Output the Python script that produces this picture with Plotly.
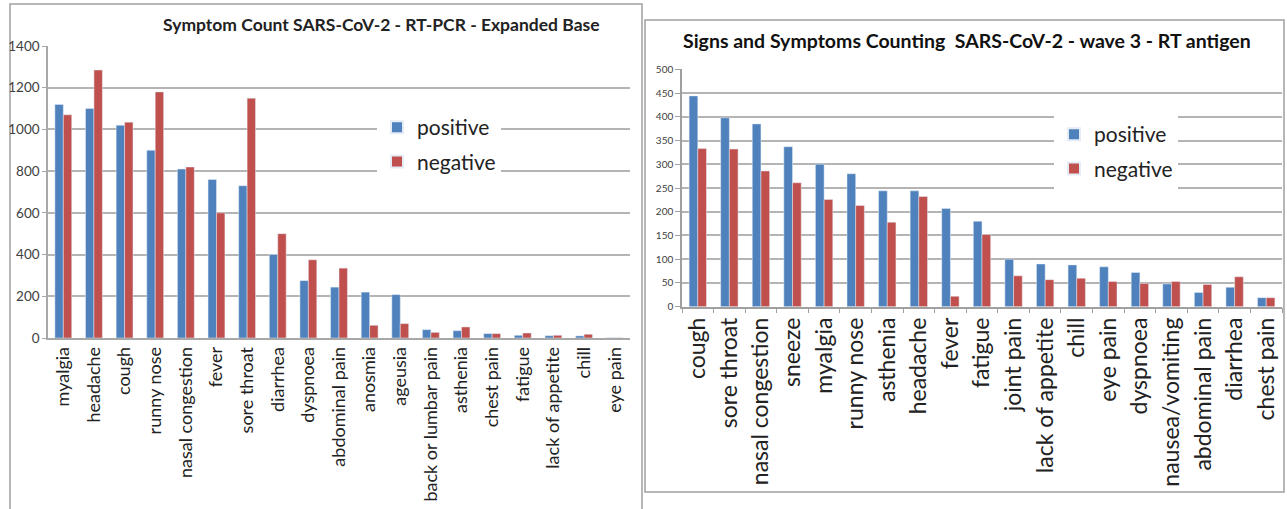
import plotly.graph_objects as go

# ---------------- data ----------------
left_categories = ["myalgia", "headache", "cough", "runny nose", "nasal congestion", "fever",
                   "sore throat", "diarrhea", "dyspnoea", "abdominal pain", "anosmia", "ageusia",
                   "back or lumbar pain", "asthenia", "chest pain", "fatigue", "lack of appetite",
                   "chill", "eye pain"]
left_positive = [1120, 1100, 1020, 900, 810, 760, 730, 400, 275, 244, 220, 208, 40, 35, 21, 13, 11, 10, 1]
left_negative = [1070, 1285, 1035, 1180, 820, 600, 1150, 500, 375, 335, 61, 69, 27, 53, 21, 24, 13, 18, 1]

right_categories = ["cough", "sore throat", "nasal congestion", "sneeze", "myalgia", "runny nose",
                    "asthenia", "headache", "fever", "fatigue", "joint pain", "lack of appetite",
                    "chill", "eye pain", "dyspnoea", "nausea/vomiting", "abdominal pain",
                    "diarrhea", "chest pain"]
right_positive = [444, 398, 385, 337, 300, 280, 244, 244, 207, 180, 100, 90, 88, 84, 72, 48, 30, 41, 19]
right_negative = [333, 332, 286, 261, 226, 213, 178, 232, 22, 152, 65, 57, 60, 53, 49, 53, 47, 63, 19]

left_title = "Symptom Count SARS-CoV-2 - RT-PCR - Expanded Base"
right_title = "Signs and Symptoms Counting  SARS-CoV-2 - wave 3 - RT antigen"
left_y_ticks = [0, 200, 400, 600, 800, 1000, 1200, 1400]
right_y_ticks = [0, 50, 100, 150, 200, 250, 300, 350, 400, 450, 500]
series_names = ["positive", "negative"]

# ---------------- style ----------------
BLUE = "#4F81BD"
RED = "#C0504D"
GRID = "#b4b4b4"
FONT = "Lato"
W, H = 1287, 509


def px(x):
    return x / W


def py(y):
    return 1 - y / H


fig = go.Figure()
fig.add_trace(go.Bar(x=left_categories, y=left_positive, name=series_names[0], marker_color=BLUE,
                     xaxis="x", yaxis="y", legend="legend", legendgroup="a"))
fig.add_trace(go.Bar(x=left_categories, y=left_negative, name=series_names[1], marker_color=RED,
                     xaxis="x", yaxis="y", legend="legend", legendgroup="b"))
fig.add_trace(go.Bar(x=right_categories, y=right_positive, name=series_names[0], marker_color=BLUE,
                     xaxis="x2", yaxis="y2", legend="legend2", legendgroup="c"))
fig.add_trace(go.Bar(x=right_categories, y=right_negative, name=series_names[1], marker_color=RED,
                     xaxis="x2", yaxis="y2", legend="legend2", legendgroup="d"))

fig.update_layout(
    width=W, height=H,
    margin=dict(l=0, r=0, t=0, b=0, autoexpand=False),
    paper_bgcolor="white", plot_bgcolor="white",
    barmode="group", bargap=0.45, bargroupgap=0.0,
    font=dict(family=FONT, color="#333333"),
    xaxis=dict(domain=[px(48), px(630)], anchor="y", tickangle=-90, automargin=False,
               tickfont=dict(size=18, family=FONT, color="#222"),
               showline=True, linecolor="#a8a8a8", linewidth=1.5, ticks="", showgrid=False),
    yaxis=dict(domain=[py(338), py(46)], anchor="x", range=[0, 1400], tickvals=left_y_ticks,
               automargin=False,
               tickfont=dict(size=13.5, family=FONT, color="#404040"),
               showline=True, linecolor="#a8a8a8", linewidth=1.5,
               ticks="outside", ticklen=4, tickcolor="#a8a8a8",
               showgrid=True, gridcolor=GRID, gridwidth=1.5, zeroline=False),
    xaxis2=dict(domain=[px(682), px(1282)], anchor="y2", tickangle=-90, automargin=False,
                tickfont=dict(size=23, family=FONT, color="#222"),
                showline=True, linecolor="#a0a0a0", linewidth=1.5,
                ticks="outside", tickson="boundaries", ticklen=5, tickcolor="#a0a0a0",
                showgrid=False),
    yaxis2=dict(domain=[py(306.7), py(69.3)], anchor="x2", range=[0, 500], tickvals=right_y_ticks,
                automargin=False,
                tickfont=dict(size=10, family=FONT, color="#404040"),
                showline=True, linecolor="#a0a0a0", linewidth=1.5,
                ticks="outside", ticklen=5, tickcolor="#a0a0a0",
                showgrid=True, gridcolor=GRID, gridwidth=1.5, zeroline=False),
    legend=dict(x=px(377), y=py(107), xanchor="left", yanchor="top", bgcolor="white",
                font=dict(size=21, family=FONT, color="#222"), traceorder="grouped",
                tracegroupgap=4, itemsizing="constant"),
    legend2=dict(x=px(1054), y=py(114), xanchor="left", yanchor="top", bgcolor="white",
                 font=dict(size=21, family=FONT, color="#222"), traceorder="grouped",
                 tracegroupgap=4, itemsizing="constant"),
    showlegend=True,
)

fig.add_annotation(text="<b>" + left_title + "</b>", xref="paper", yref="paper",
                   x=px(381), y=py(25), xanchor="center", yanchor="middle", showarrow=False,
                   font=dict(size=17.5, family=FONT, color="#222"))
fig.add_annotation(text="<b>" + right_title + "</b>", xref="paper", yref="paper",
                   x=px(967), y=py(40), xanchor="center", yanchor="middle", showarrow=False,
                   font=dict(size=19.5, family=FONT, color="#111"))

# panel frames
fig.add_shape(type="rect", xref="paper", yref="paper", x0=px(10), x1=px(642), y0=-0.05, y1=py(4),
              line=dict(color="#a0a0a0", width=1.5), layer="below")
fig.add_shape(type="rect", xref="paper", yref="paper", x0=px(645), x1=px(1284), y0=py(492), y1=py(20),
              line=dict(color="#a0a0a0", width=1.5), layer="below")

fig.write_html("out.html", config={"displayModeBar": False},
               post_script="document.body.style.margin='0';document.body.style.overflow='hidden';")
